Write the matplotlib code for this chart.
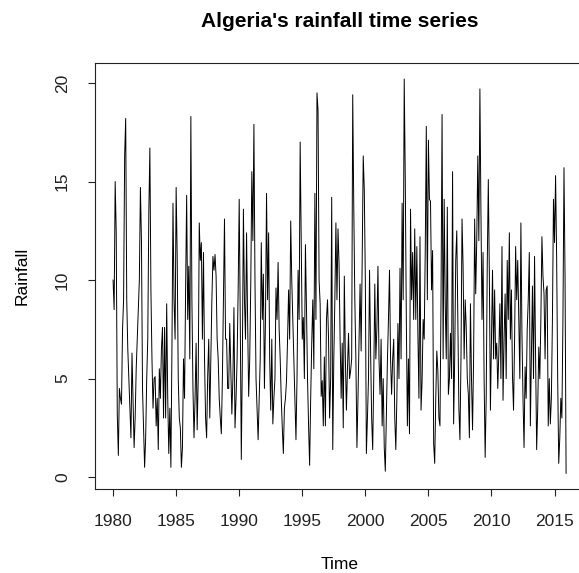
import numpy as np
import matplotlib
matplotlib.use("Agg")
import matplotlib.pyplot as plt

# monthly rainfall, Jan 1980 .. Dec 2015
start_year = 1980
rain_1980s = [
    10.0, 8.5, 15.0, 12.4, 3.2, 1.1, 4.5, 4.0, 3.7, 7.5, 9.0, 16.3,    # 1980
    18.2, 9.0, 6.5, 5.0, 3.5, 2.0, 6.3, 4.0, 1.5, 3.0, 5.5, 7.0,       # 1981
    8.5, 10.0, 14.7, 12.0, 4.5, 2.5, 0.5, 2.0, 5.0, 7.0, 13.4, 16.7,   # 1982
    9.5, 6.0, 3.5, 5.0, 5.1, 2.6, 4.0, 1.4, 5.5, 4.0, 6.5, 7.6,        # 1983
    3.0, 7.6, 3.0, 8.8, 4.0, 1.2, 3.5, 0.5, 6.5, 13.9, 9.0, 7.0,       # 1984
    14.7, 11.2, 5.0, 3.0, 2.5, 0.5, 1.5, 6.0, 4.0, 9.5, 14.3, 8.0,     # 1985
    10.7, 6.0, 18.3, 9.0, 4.5, 2.0, 4.0, 6.8, 2.4, 5.0, 12.9, 11.0,    # 1986
    11.9, 7.0, 11.4, 6.0, 3.0, 2.0, 5.1, 7.0, 3.0, 6.0, 9.0, 11.2,     # 1987
    10.5, 11.3, 10.2, 7.0, 6.0, 4.0, 3.0, 2.2, 5.0, 9.0, 13.1, 7.0,    # 1988
    7.0, 4.5, 4.5, 7.8, 5.5, 3.2, 5.0, 8.6, 2.5, 4.0, 6.0, 9.5,        # 1989
]
rain_1990s = [
    14.1, 8.0, 0.9, 6.0, 13.6, 9.0, 7.0, 12.4, 8.0, 4.1, 6.0, 9.8,     # 1990
    15.5, 12.0, 17.9, 10.0, 5.0, 3.5, 1.9, 4.0, 6.0, 11.9, 8.0, 10.3,  # 1991
    4.5, 8.0, 14.4, 9.0, 12.4, 6.0, 3.4, 7.0, 2.7, 4.0, 5.0, 9.6,      # 1992
    8.0, 10.9, 7.5, 6.0, 4.0, 2.5, 1.2, 3.5, 4.0, 4.9, 7.0, 9.5,       # 1993
    7.0, 13.0, 10.0, 8.0, 6.0, 4.0, 1.9, 5.0, 10.5, 8.0, 17.0, 11.9,   # 1994
    7.0, 8.1, 5.0, 11.8, 8.6, 5.0, 2.6, 0.6, 4.0, 6.8, 9.0, 5.5,       # 1995
    14.4, 8.0, 19.5, 18.6, 10.0, 8.8, 4.1, 4.9, 2.6, 6.1, 2.6, 8.0,    # 1996
    9.0, 7.0, 3.0, 5.0, 14.2, 1.4, 6.0, 9.0, 12.9, 9.0, 12.6, 10.8,    # 1997
    7.0, 4.0, 6.8, 2.5, 10.2, 6.0, 3.4, 5.5, 7.3, 5.0, 5.4, 6.0,       # 1998
    19.4, 13.7, 9.0, 6.0, 1.5, 4.0, 7.0, 9.8, 6.4, 11.0, 16.3, 14.6,   # 1999
]
rain_2000s = [
    10.0, 1.2, 3.0, 5.0, 10.5, 6.4, 3.0, 1.4, 5.0, 9.8, 6.0, 7.6,      # 2000
    10.7, 6.0, 4.2, 7.0, 2.6, 5.0, 1.5, 0.3, 3.0, 5.9, 8.0, 10.5,      # 2001
    6.0, 4.2, 6.0, 7.0, 3.0, 1.4, 4.0, 7.8, 5.0, 10.6, 6.0, 13.9,      # 2002
    9.0, 20.2, 15.1, 8.0, 2.6, 6.0, 2.2, 13.6, 9.0, 11.4, 8.0, 12.6,   # 2003
    8.0, 11.7, 7.3, 4.0, 12.2, 3.4, 4.9, 8.0, 7.0, 11.5, 17.8, 9.0,    # 2004
    17.1, 14.1, 14.0, 9.5, 11.5, 1.7, 0.7, 4.0, 6.4, 5.4, 3.0, 2.6,    # 2005
    9.0, 18.4, 6.0, 14.1, 8.8, 6.0, 13.7, 4.2, 5.0, 7.3, 5.0, 15.5,    # 2006
    2.7, 6.0, 11.0, 12.5, 8.0, 3.5, 1.9, 6.0, 13.1, 10.7, 6.0, 9.0,    # 2007
    7.6, 5.0, 4.2, 2.0, 8.8, 5.0, 2.4, 6.0, 13.1, 9.3, 12.0, 16.3,     # 2008
    12.0, 19.7, 13.4, 8.0, 11.4, 5.0, 1.0, 4.1, 10.8, 15.1, 10.2, 3.4, # 2009
]
rain_2010s = [
    7.0, 10.5, 6.0, 9.5, 6.0, 6.8, 4.5, 6.3, 8.8, 5.0, 11.7, 3.9,      # 2010
    7.0, 9.3, 5.0, 11.0, 8.0, 12.4, 7.0, 9.5, 5.1, 3.4, 7.0, 11.7,     # 2011
    9.0, 11.0, 8.0, 5.0, 12.9, 7.3, 4.0, 1.5, 5.6, 4.0, 7.5, 9.0,      # 2012
    11.4, 2.6, 6.0, 9.7, 5.0, 11.2, 6.0, 1.4, 3.5, 6.6, 5.0, 8.0,      # 2013
    12.2, 10.2, 9.3, 6.0, 9.5, 9.7, 2.6, 5.0, 2.7, 4.0, 8.0, 14.1,     # 2014
    11.9, 15.3, 11.2, 5.0, 0.7, 2.0, 4.0, 3.0, 8.0, 15.7, 10.2, 0.2,   # 2015
]

x_ticks = [1980, 1985, 1990, 1995, 2000, 2005, 2010, 2015]
y_ticks = [0, 5, 10, 15, 20]

rain = np.array(rain_1980s + rain_1990s + rain_2000s + rain_2010s)
t = start_year + np.arange(len(rain)) / 12.0

plt.rcParams['font.family'] = ['Liberation Sans', 'DejaVu Sans']

fig = plt.figure(figsize=(5.79, 5.73), dpi=100)
# the reference is cropped: right edge of the plot box lies past the image
ax = fig.add_axes([0.164, 0.1466, 0.845, 0.743])

ax.plot(t, rain, color='black', lw=0.7)

# R style 4% padding
xr = t[-1] - t[0]
yr = rain.max() - rain.min()
ax.set_xlim(t[0] - 0.04 * xr, t[-1] + 0.04 * xr)
ax.set_ylim(rain.min() - 0.04 * yr, rain.max() + 0.04 * yr)

ax.set_xticks(x_ticks)
ax.set_yticks(y_ticks)
ax.set_yticklabels([str(v) for v in y_ticks], rotation=90, va='center')
ax.tick_params(axis='both', direction='out', length=5, width=0.8,
               labelsize=12.5, colors='#222222')
ax.tick_params(axis='x', pad=13)
ax.tick_params(axis='y', pad=13)
for s in ax.spines.values():
    s.set_linewidth(0.8)
    s.set_color('#222222')

ax.set_xlabel('Time', fontsize=12.5, labelpad=20)
ax.set_ylabel('Rainfall', fontsize=12.5, labelpad=18)
ax.set_title("Algeria's rainfall time series", fontsize=15, fontweight='bold', pad=26)

fig.savefig('out.png', dpi=100)
